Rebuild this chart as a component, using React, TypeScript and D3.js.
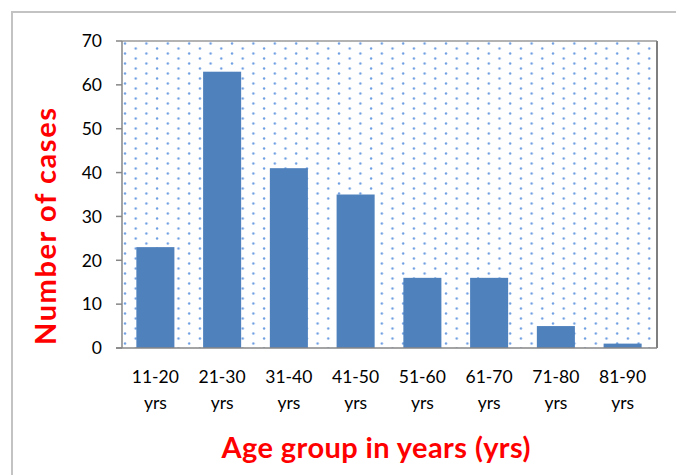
import React from "react";
import * as d3 from "d3";

const categories = ["11-20", "21-30", "31-40", "41-50", "51-60", "61-70", "71-80", "81-90"];
const unitLabel = "yrs";
const cases = [23, 63, 41, 35, 16, 16, 5, 1];
const yTicks = [0, 10, 20, 30, 40, 50, 60, 70];
const yTitle = "Number of cases";
const xTitle = "Age group in years (yrs)";

const W = 676;
const H = 475;
const plot = { left: 122, right: 657, top: 41, bottom: 348 };
const FONT = "Lato, 'Open Sans', sans-serif";

export default function App() {
  const x = d3
    .scaleBand<string>()
    .domain(categories)
    .range([plot.left, plot.right - 1])
    .paddingInner(0.43)
    .paddingOuter(0.215);
  const y = d3.scaleLinear().domain([0, 70]).range([plot.bottom, plot.top]);

  return (
    <svg
      width={W}
      height={H}
      style={{ position: "absolute", left: 0, top: 0, background: "#fff" }}
    >
      <defs>
        <pattern id="dots" width={21.4} height={10} patternUnits="userSpaceOnUse" x={plot.left} y={plot.top}>
          <rect width={21.4} height={10} fill="#ffffff" />
          <circle cx={3} cy={2.5} r={1.2} fill="#6f9fe2" />
          <circle cx={13.7} cy={7.5} r={1.2} fill="#6f9fe2" />
        </pattern>
      </defs>
      {/* outer frame */}
      <line x1={12} y1={12} x2={W} y2={12} stroke="#c3c3c3" strokeWidth={2} />
      <line x1={12} y1={11} x2={12} y2={H} stroke="#c3c3c3" strokeWidth={2} />

      {/* plot area */}
      <rect
        x={plot.left}
        y={plot.top}
        width={plot.right - plot.left}
        height={plot.bottom - plot.top}
        fill="url(#dots)"
      />
      {/* bars */}
      {cases.map((v, i) => (
        <rect
          key={categories[i]}
          x={x(categories[i])}
          y={y(v)}
          width={x.bandwidth()}
          height={y(0) - y(v)}
          fill="#4f81bd"
        />
      ))}
      {/* plot border */}
      <line x1={plot.left} y1={plot.top} x2={plot.right} y2={plot.top} stroke="#9a9a9a" strokeWidth={1.5} />
      <line x1={plot.right} y1={plot.top} x2={plot.right} y2={plot.bottom} stroke="#7f7f7f" strokeWidth={2} />
      <line x1={plot.left} y1={plot.top} x2={plot.left} y2={plot.bottom} stroke="#868686" strokeWidth={1.5} />
      <line x1={plot.left - 6} y1={plot.bottom} x2={plot.right} y2={plot.bottom} stroke="#868686" strokeWidth={1.5} />

      {/* y ticks */}
      {yTicks.map((t) => (
        <g key={t}>
          <line x1={plot.left - 6} x2={plot.left} y1={y(t)} y2={y(t)} stroke="#868686" strokeWidth={1.5} />
          <text
            x={102}
            y={y(t)}
            dy="0.36em"
            textAnchor="end"
            fontFamily={FONT}
            fontSize={17.5}
            fill="#000"
          >
            {t}
          </text>
        </g>
      ))}

      {/* x labels */}
      {categories.map((c) => {
        const cx = (x(c) as number) + x.bandwidth() / 2;
        return (
          <g key={c}>
            <text x={cx} y={383} textAnchor="middle" fontFamily={FONT} fontSize={17.5} fill="#000">
              {c}
            </text>
            <text x={cx} y={409} textAnchor="middle" fontFamily={FONT} fontSize={17.5} fill="#000">
              {unitLabel}
            </text>
          </g>
        );
      })}

      {/* titles */}
      <text
        transform={`translate(56,${(108 + 345) / 2}) rotate(-90)`}
        textAnchor="middle"
        fontFamily={FONT}
        fontWeight="bold"
        fontSize={29}
        textLength={237}
        lengthAdjust="spacing"
        fill="#ff0000"
      >
        {yTitle}
      </text>
      <text
        x={376}
        y={458}
        textAnchor="middle"
        fontFamily={FONT}
        fontWeight="bold"
        fontSize={29}
        textLength={309}
        lengthAdjust="spacing"
        fill="#ff0000"
      >
        {xTitle}
      </text>
    </svg>
  );
}
